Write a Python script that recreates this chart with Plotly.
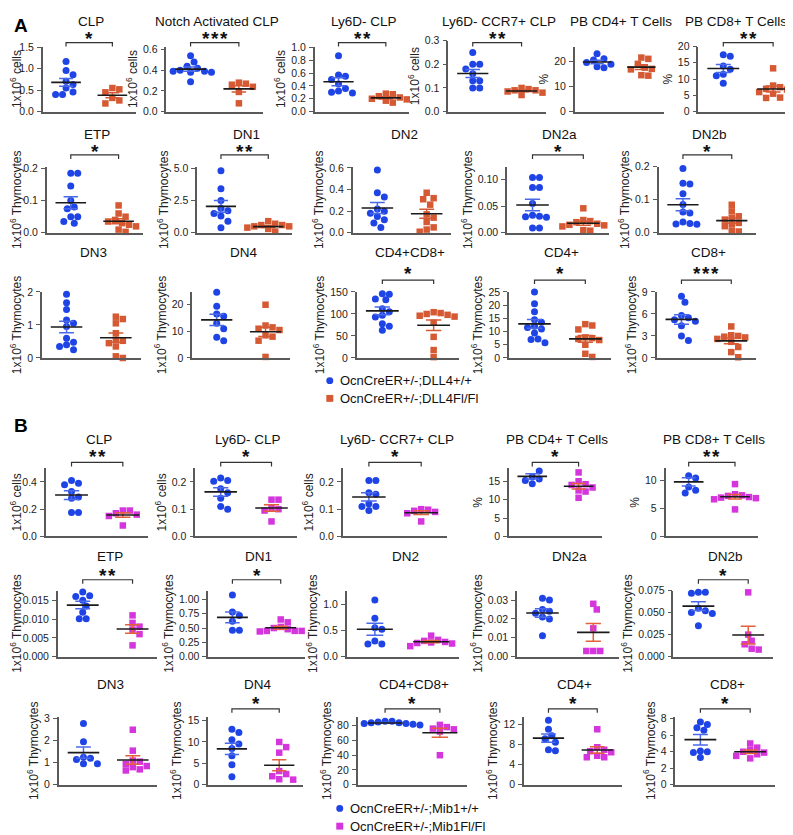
import numpy as np
import plotly.graph_objects as go

W, H = 793, 835

# ---------------- DATA : panel A (OcnCreER+/-;DLL4+/+  vs  DLL4Fl/Fl) ----------------
A_CLP_wt = [1.17, 0.96, 0.86, 0.71, 0.63, 0.55, 0.46, 0.40, 0.40]
A_CLP_ko = [0.55, 0.52, 0.45, 0.32, 0.26, 0.19]
A_NCLP_wt = [0.54, 0.48, 0.44, 0.42, 0.40, 0.39, 0.39, 0.38, 0.38, 0.29]
A_NCLP_ko = [0.28, 0.27, 0.26, 0.24, 0.19, 0.08]
A_LY6D_wt = [0.87, 0.57, 0.55, 0.50, 0.43, 0.36, 0.32, 0.30, 0.29]
A_LY6D_ko = [0.28, 0.27, 0.24, 0.22, 0.20, 0.19, 0.17, 0.14]
A_CCR7_wt = [0.25, 0.20, 0.20, 0.18, 0.16, 0.13, 0.13, 0.10, 0.10]
A_CCR7_ko = [0.10, 0.095, 0.09, 0.09, 0.085, 0.08, 0.07]
A_PBCD4_wt = [23.0, 21.0, 20.5, 19.5, 18.8, 17.8, 17.5]
A_PBCD4_ko = [21.5, 21.0, 19.0, 17.5, 17.0, 16.8, 14.5, 14.3]
A_PBCD8_wt = [17.5, 17.0, 14.0, 13.0, 11.5, 11.0, 8.7]
A_PBCD8_ko = [13.3, 8.0, 7.5, 7.0, 6.8, 6.0, 5.5, 4.3, 4.2]
A_ETP_wt = [0.185, 0.185, 0.145, 0.10, 0.08, 0.075, 0.05, 0.05, 0.035, 0.03]
A_ETP_ko = [0.085, 0.06, 0.05, 0.04, 0.035, 0.03, 0.025, 0.02, 0.01, 0.003]
A_DN1_wt = [4.8, 3.4, 2.5, 1.9, 1.7, 1.5, 1.3, 0.9, 0.4]
A_DN1_ko = [0.9, 0.7, 0.6, 0.6, 0.5, 0.5, 0.4, 0.3, 0.2, 0.1]
A_DN2_wt = [0.58, 0.37, 0.33, 0.22, 0.20, 0.18, 0.15, 0.12, 0.09, 0.05]
A_DN2_ko = [0.37, 0.32, 0.31, 0.26, 0.17, 0.14, 0.10, 0.05, 0.03, 0.01]
A_DN2a_wt = [0.104, 0.104, 0.085, 0.085, 0.055, 0.033, 0.031, 0.030, 0.029, 0.009, 0.009]
A_DN2a_ko = [0.046, 0.024, 0.022, 0.020, 0.017, 0.015, 0.014, 0.012, 0.005, 0.004]
A_DN2b_wt = [0.195, 0.150, 0.148, 0.118, 0.086, 0.063, 0.060, 0.033, 0.028, 0.027, 0.026]
A_DN2b_ko = [0.085, 0.065, 0.050, 0.045, 0.040, 0.030, 0.025, 0.020, 0.005, 0.004]
A_DN3_wt = [1.93, 1.67, 1.47, 1.15, 1.05, 0.95, 0.60, 0.48, 0.40, 0.35, 0.25]
A_DN3_ko = [1.25, 1.18, 1.05, 0.75, 0.55, 0.52, 0.45, 0.35, 0.05, 0.0]
A_DN4_wt = [24.7, 19.4, 16.5, 15.7, 13.0, 11.0, 7.8, 6.5]
A_DN4_ko = [20.0, 12.2, 11.5, 11.0, 10.5, 8.5, 8.0, 6.5, 0.4]
A_DP_wt = [146, 145, 134, 132, 112, 105, 97, 93, 78, 72, 63]
A_DP_ko = [104, 102, 100, 98, 96, 94, 80, 48, 18, 2]
A_CD4_wt = [25.0, 20.5, 17.5, 14.5, 13.5, 12.0, 11.5, 11.0, 9.5, 7.2, 7.0, 5.8]
A_CD4_ko = [12.8, 12.3, 10.8, 7.8, 7.5, 7.2, 6.8, 5.0, 1.6, 0.4]
A_CD8_wt = [8.4, 7.6, 5.8, 5.5, 5.2, 5.0, 4.4, 3.0, 2.4]
A_CD8_ko = [4.3, 3.1, 3.0, 2.9, 2.8, 2.6, 2.2, 1.5, 0.8, 0.1]

# ---------------- DATA : panel B (OcnCreER+/-;Mib1+/+  vs  Mib1Fl/Fl) ----------------
B_CLP_wt = [0.41, 0.39, 0.38, 0.33, 0.29, 0.28, 0.175, 0.175]
B_CLP_ko = [0.19, 0.19, 0.17, 0.16, 0.15, 0.08]
B_LY6D_wt = [0.215, 0.205, 0.203, 0.175, 0.16, 0.14, 0.11, 0.10]
B_LY6D_ko = [0.135, 0.135, 0.105, 0.10, 0.095, 0.055]
B_CCR7_wt = [0.205, 0.205, 0.16, 0.155, 0.12, 0.11, 0.11, 0.095]
B_CCR7_ko = [0.10, 0.098, 0.094, 0.09, 0.085, 0.055]
B_PBCD4_wt = [18.8, 17.8, 16.2, 15.6, 15.2, 14.3]
B_PBCD4_ko = [17.4, 15.0, 14.2, 14.0, 13.3, 12.5, 12.2, 10.5]
B_PBCD8_wt = [12.3, 10.8, 10.4, 8.8, 8.2, 7.7]
B_PBCD8_ko = [9.3, 7.5, 7.3, 7.2, 7.0, 6.9, 6.8, 6.6, 4.8]
B_ETP_wt = [0.0172, 0.0162, 0.0160, 0.0150, 0.0135, 0.0118, 0.0101, 0.0101]
B_ETP_ko = [0.0110, 0.0090, 0.0080, 0.0072, 0.0060, 0.0030]
B_DN1_wt = [1.08, 0.78, 0.72, 0.62, 0.46, 0.46]
B_DN1_ko = [0.65, 0.60, 0.52, 0.50, 0.48, 0.45, 0.45, 0.45, 0.44]
B_DN2_wt = [1.08, 0.73, 0.55, 0.52, 0.30, 0.24, 0.24]
B_DN2_ko = [0.40, 0.32, 0.30, 0.28, 0.27, 0.26, 0.25, 0.20]
B_DN2a_wt = [0.031, 0.030, 0.025, 0.024, 0.023, 0.021, 0.020, 0.011]
B_DN2a_ko = [0.028, 0.025, 0.015, 0.003, 0.003, 0.003]
B_DN2b_wt = [0.073, 0.073, 0.072, 0.055, 0.052, 0.050, 0.049, 0.035]
B_DN2b_ko = [0.073, 0.025, 0.018, 0.014, 0.009, 0.008]
B_DN3_wt = [2.78, 1.95, 1.25, 1.20, 1.15, 0.95, 0.95]
B_DN3_ko = [2.5, 1.55, 1.10, 1.05, 0.95, 0.85, 0.80, 0.70, 0.65]
B_DN4_wt = [13.0, 12.2, 10.5, 9.5, 8.5, 6.8, 4.7, 1.9]
B_DN4_ko = [10.0, 8.8, 7.5, 3.2, 2.5, 2.0, 1.3, 1.2]
B_DP_wt = [86, 85, 84, 83, 82, 81, 82, 83, 84, 86]
B_DP_ko = [81, 78, 76, 75, 72, 40]
B_CD4_wt = [12.9, 11.1, 9.8, 9.2, 8.5, 7.0, 6.8]
B_CD4_ko = [11.1, 7.5, 7.0, 6.7, 6.5, 5.8, 5.5, 5.5]
B_CD8_wt = [7.6, 7.3, 6.9, 6.6, 4.1, 4.0, 3.9, 3.3]
B_CD8_ko = [5.0, 4.5, 4.2, 4.0, 3.9, 3.7, 3.5, 3.2]

LEGEND_A = ["OcnCreER+/-;DLL4+/+", "OcnCreER+/-;DLL4Fl/Fl"]
LEGEND_B = ["OcnCreER+/-;Mib1+/+", "OcnCreER+/-;Mib1Fl/Fl"]

CELLS = "1x10<sup>6</sup> cells"
THY = "1x10<sup>6</sup> Thymocytes"
PCT = "%"

# ---------------- LAYOUT CONFIG (pixels) ----------------
ROWS = {
    "A1": dict(title=8, star=20, brk=29, top=33, base=99),
    "A2": dict(title=122, star=135, brk=143, top=155, base=222),
    "A3": dict(title=242, star=258, brk=270, top=282, base=349),
    "B1": dict(title=432, star=444, brk=455, top=461, base=530),
    "B2": dict(title=550, star=565, brk=574, top=585, base=652),
    "B3": dict(title=680, star=695, brk=705, top=713, base=782),
}

# (row, title, wt, ko, stars, ylabel, dtick, fmt, ymax, x0, x1, top_override, title_dx)
PLOTS = [
    ("A1", "CLP", A_CLP_wt, A_CLP_ko, "*", CELLS, 0.5, ".1f", 1.52, 32, 125, None, 0),
    ("A1", "Notch Activated CLP", A_NCLP_wt, A_NCLP_ko, "***", CELLS, 0.2, ".1f", 0.63, 156, 253, None, 0),
    ("A1", "Ly6D- CLP", A_LY6D_wt, A_LY6D_ko, "**", CELLS, 0.2, ".1f", 1.015, 305, 400, None, 0),
    ("A1", "Ly6D- CCR7+ CLP", A_CCR7_wt, A_CCR7_ko, "**", CELLS, 0.1, ".1f", 0.3, 439, 537, 27, 0),
    ("A1", "PB CD4+ T Cells", A_PBCD4_wt, A_PBCD4_ko, "", PCT, 10, "d", 25.9, 566, 655, None, 0),
    ("A1", "PB CD8+ T Cells", A_PBCD8_wt, A_PBCD8_ko, "**", PCT, 5, "d", 20.0, 690, 790, None, -14),
    ("A2", "ETP", A_ETP_wt, A_ETP_ko, "*", THY, 0.1, ".1f", 0.205, 36, 132, None, 0),
    ("A2", "DN1", A_DN1_wt, A_DN1_ko, "**", THY, 2.5, ".1f", 5.1, 187, 282, None, 0),
    ("A2", "DN2", A_DN2_wt, A_DN2_ko, "", THY, 0.2, ".1f", 0.61, 343, 442, None, 0),
    ("A2", "DN2a", A_DN2a_wt, A_DN2a_ko, "*", THY, 0.05, ".2f", 0.124, 498, 600, None, 0),
    ("A2", "DN2b", A_DN2b_wt, A_DN2b_ko, "*", THY, 0.1, ".1f", 0.2, 650, 748, None, 0),
    ("A3", "DN3", A_DN3_wt, A_DN3_ko, "", THY, 1, "d", 2.0, 31, 130, None, 0),
    ("A3", "DN4", A_DN4_wt, A_DN4_ko, "", THY, 10, "d", 24.8, 182, 280, None, 0),
    ("A3", "CD4+CD8+", A_DP_wt, A_DP_ko, "*", THY, 50, "d", 150, 347, 450, None, 0),
    ("A3", "CD4+", A_CD4_wt, A_CD4_ko, "*", THY, 5, "d", 25, 500, 602, None, 0),
    ("A3", "CD8+", A_CD8_wt, A_CD8_ko, "***", THY, 3, "d", 9, 648, 748, None, 0),
    ("B1", "CLP", B_CLP_wt, B_CLP_ko, "**", CELLS, 0.2, ".1f", 0.50, 35, 138, None, 0),
    ("B1", "Ly6D- CLP", B_LY6D_wt, B_LY6D_ko, "*", CELLS, 0.1, ".1f", 0.25, 185, 287, None, 0),
    ("B1", "Ly6D- CCR7+ CLP", B_CCR7_wt, B_CCR7_ko, "*", CELLS, 0.1, ".1f", 0.25, 333, 438, None, 0),
    ("B1", "PB CD4+ T Cells", B_PBCD4_wt, B_PBCD4_ko, "*", PCT, 5, "d", 18.5, 500, 593, None, 0),
    ("B1", "PB CD8+ T Cells", B_PBCD8_wt, B_PBCD8_ko, "**", PCT, 5, "d", 12.1, 657, 750, None, 0),
    ("B2", "ETP", B_ETP_wt, B_ETP_ko, "**", THY, 0.005, ".3f", 0.0176, 47, 147, None, 0),
    ("B2", "DN1", B_DN1_wt, B_DN1_ko, "*", THY, 0.25, ".2f", 1.155, 198, 295, None, 0),
    ("B2", "DN2", B_DN2_wt, B_DN2_ko, "", THY, 0.5, ".1f", 1.26, 337, 450, None, 0),
    ("B2", "DN2a", B_DN2a_wt, B_DN2a_ko, "", THY, 0.01, ".2f", 0.035, 508, 610, None, 0),
    ("B2", "DN2b", B_DN2b_wt, B_DN2b_ko, "*", THY, 0.025, ".3f", 0.075, 665, 765, None, 0),
    ("B3", "DN3", B_DN3_wt, B_DN3_ko, "", THY, 1, "d", 3.09, 48, 147, None, 0),
    ("B3", "DN4", B_DN4_wt, B_DN4_ko, "*", THY, 5, "d", 15.9, 198, 293, None, 0),
    ("B3", "CD4+CD8+", B_DP_wt, B_DP_ko, "*", THY, 20, "d", 92, 348, 458, None, 0),
    ("B3", "CD4+", B_CD4_wt, B_CD4_ko, "*", THY, 4, "d", 13.6, 515, 613, None, 0),
    ("B3", "CD8+", B_CD8_wt, B_CD8_ko, "*", THY, 2, "d", 8.24, 667, 767, None, 0),
]

BLUE = "#1f44e6"
BLUE_ERR = "#4a68ea"
ORANGE = "#d55a34"
MAGENTA = "#d535dc"
RED_ERR = "#e2603a"
AXIS = "#5a5a5a"
FONT = "Liberation Sans, Arial, sans-serif"
XR = (0.5, 2.5)


def fx(p):
    return p / W


def fy(p):
    return 1 - p / H


def swarm(vals, ymax, hpx, wpx, d=7.0):
    vals = np.asarray(vals, float)
    ppu_y = hpx / ymax
    ppu_x = wpx / (XR[1] - XR[0])
    order = np.argsort(-vals, kind="stable")
    placed = []
    offs = np.zeros(len(vals))
    for i in order:
        y = vals[i] * ppu_y
        k = 0
        while True:
            cand = 0.0 if k == 0 else ((k + 1) // 2) * d * 0.5 * (1 if k % 2 else -1)
            if all((cand - px) ** 2 + (y - py) ** 2 >= (d * 0.95) ** 2 for px, py in placed):
                break
            k += 1
        placed.append((cand, y))
        offs[i] = cand / ppu_x
    return offs


fig = go.Figure()
layout = dict(
    width=W, height=H, margin=dict(l=0, r=0, t=0, b=0),
    paper_bgcolor="white", plot_bgcolor="white", showlegend=False,
    font=dict(family=FONT, color="#222"),
)
annotations = []
shapes = []

for i, (row, title, wt, ko, stars, ylab, dtick, fmt, ymax, x0, x1, topo, tdx) in enumerate(PLOTS, start=1):
    R = ROWS[row]
    top = topo if topo is not None else R["top"]
    base = R["base"]
    xs = "" if i == 1 else str(i)
    xref, yref = "x" + xs, "y" + xs
    ko_color = ORANGE if row.startswith("A") else MAGENTA
    ko_err = ORANGE if row.startswith("A") else RED_ERR

    ticks = list(np.arange(0, ymax + dtick * 1e-6, dtick))
    layout["xaxis" + xs] = dict(
        domain=[fx(x0), fx(x1)], anchor=yref, range=list(XR), showline=True,
        linecolor=AXIS, linewidth=1.6, showticklabels=False, ticks="",
        showgrid=False, zeroline=False, fixedrange=True,
    )
    layout["yaxis" + xs] = dict(
        domain=[fy(base), fy(top)], anchor=xref, range=[0, ymax], showline=True,
        linecolor=AXIS, linewidth=1.6, ticks="outside", ticklen=4, tickwidth=1.3,
        tickcolor=AXIS, tickvals=ticks, tickformat=fmt, showgrid=False, zeroline=False,
        tickfont=dict(size=10.5, color="#222"), ticklabelstandoff=1,
        title=dict(text=ylab, font=dict(size=12, color="#222"), standoff=3),
    )

    hpx = base - top
    wpx = x1 - x0
    for g, (vals, col, sym, ecol) in enumerate(
        [(wt, BLUE, "circle", BLUE_ERR), (ko, ko_color, "square", ko_err)], start=1
    ):
        offs = swarm(vals, ymax, hpx, wpx)
        fig.add_trace(go.Scatter(
            x=g + offs, y=vals, mode="markers", xaxis=xref, yaxis=yref,
            marker=dict(symbol=sym, size=7 if sym == "circle" else 6.5, color=col, line=dict(width=0)),
            cliponaxis=False, hoverinfo="skip",
        ))
        m = float(np.mean(vals))
        s = float(np.std(vals, ddof=1) / np.sqrt(len(vals)))
        cw = 0.15
        fig.add_trace(go.Scatter(
            x=[g, g, None, g - cw, g + cw, None, g - cw, g + cw],
            y=[m - s, m + s, None, m - s, m - s, None, m + s, m + s],
            mode="lines", xaxis=xref, yaxis=yref, line=dict(color=ecol, width=1.5),
            cliponaxis=False, hoverinfo="skip",
        ))
        fig.add_trace(go.Scatter(
            x=[g - 0.32, g + 0.32], y=[m, m], mode="lines", xaxis=xref, yaxis=yref,
            line=dict(color="#1a1a1a", width=1.6), cliponaxis=False, hoverinfo="skip",
        ))

    annotations.append(dict(
        text=title, xref="paper", yref="paper",
        x=fx((x0 + x1) / 2 + 2 + tdx), y=fy(R["title"]), showarrow=False,
        xanchor="center", yanchor="middle", font=dict(size=13.5, color="#111"),
    ))
    if stars:
        bt = fy(R["brk"])
        bb = fy(R["brk"] + 4)
        shapes.append(dict(
            type="path", xref=xref, yref="paper",
            path=f"M 1,{bb} L 1,{bt} L 2,{bt} L 2,{bb}",
            line=dict(color="#333", width=1.2),
        ))
        annotations.append(dict(
            text="<b>" + "\u200a".join(stars) + "</b>", xref=xref, yref="paper", x=1.5,
            y=fy(R["star"] + 5), showarrow=False, xanchor="center", yanchor="middle",
            font=dict(size=19, color="#111", family="Liberation Sans, Arial"),
        ))

annotations.append(dict(text="<b>A</b>", xref="paper", yref="paper", x=fx(1), y=fy(12),
                        xanchor="left", yanchor="middle", showarrow=False, font=dict(size=19, color="#000")))
annotations.append(dict(text="<b>B</b>", xref="paper", yref="paper", x=fx(1), y=fy(418),
                        xanchor="left", yanchor="middle", showarrow=False, font=dict(size=19, color="#000")))


def legend(xm, y1, y2, labels, c2):
    r = 3.5
    shapes.append(dict(type="circle", xref="paper", yref="paper", x0=fx(xm - r), x1=fx(xm + r),
                       y0=fy(y1 + r), y1=fy(y1 - r), fillcolor=BLUE, line=dict(width=0)))
    shapes.append(dict(type="rect", xref="paper", yref="paper", x0=fx(xm - r), x1=fx(xm + r),
                       y0=fy(y2 + r), y1=fy(y2 - r), fillcolor=c2, line=dict(width=0)))
    for yy, lab in [(y1, labels[0]), (y2, labels[1])]:
        annotations.append(dict(text=lab, xref="paper", yref="paper", x=fx(xm + 8), y=fy(yy),
                                xanchor="left", yanchor="middle", showarrow=False,
                                font=dict(size=13, color="#111")))


legend(320, 372, 390, LEGEND_A, ORANGE)
legend(330, 806, 824, LEGEND_B, MAGENTA)

layout["annotations"] = annotations
layout["shapes"] = shapes
fig.update_layout(**layout)
fig.write_html("out.html")
